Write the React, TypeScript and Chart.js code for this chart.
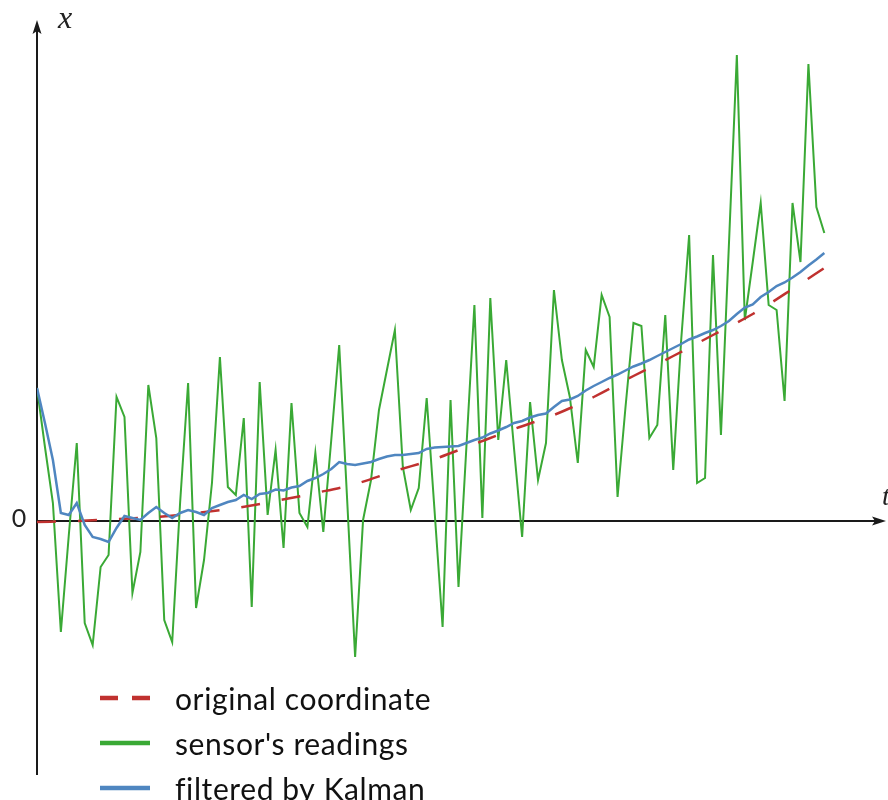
import React, { useEffect, useRef } from 'react';
import { Chart, registerables } from 'chart.js';

Chart.register(...registerables);

// sensor's readings (green), one value per time step t = 0..99
const sensorReadings: number[] = [
  13.3, 7.4, 1.8, -11.1, -1.4, 7.8, -10.2, -12.4, -4.6, -3.4,
  12.4, 10.4, -7.2, -3.1, 13.6, 8.3, -9.9, -12.1, 1.9, 13.8,
  -8.7, -3.9, 3.8, 16.4, 3.4, 2.6, 10.3, -8.6, 13.9, 0.6,
  7.1, -2.7, 11.8, 0.8, -0.6, 6.8, -1.1, 8.1, 17.6, 2.1,
  -13.6, 0.1, 4.1, 11.1, 15.1, 19.1, 5.4, 1.1, 3.3, 12.3,
  0.9, -10.6, 12.1, -6.6, 7.5, 21.6, 0.3, 22.3, 8.1, 16.1,
  7.1, -1.6, 11.9, 4.1, 7.8, 23.1, 16.1, 12.4, 5.8, 17.1,
  15.4, 22.6, 20.4, 2.4, 11.4, 19.8, 19.5, 8.3, 9.6, 20.6,
  5.1, 18.1, 28.6, 3.8, 4.3, 26.6, 8.6, 27.6, 46.6, 20.1,
  25.9, 31.8, 21.6, 21.1, 12.0, 31.8, 25.9, 45.7, 31.4, 28.8,
];

// filtered by Kalman (blue)
const kalmanFiltered: number[] = [
  13.3, 9.8, 6.1, 0.8, 0.6, 1.8, -0.4, -1.6, -1.8, -2.1,
  -0.7, 0.5, 0.3, 0.1, 0.8, 1.4, 0.8, 0.3, 0.8, 1.1,
  0.9, 0.6, 1.3, 1.6, 1.9, 2.1, 2.6, 2.2, 2.7, 2.8,
  3.15, 3.05, 3.35, 3.5, 4.0, 4.3, 4.7, 5.2, 5.9, 5.7,
  5.6, 5.75, 5.9, 6.2, 6.45, 6.6, 6.6, 6.7, 6.8, 7.2,
  7.35, 7.4, 7.45, 7.5, 7.8, 8.1, 8.35, 8.75, 9.05, 9.4,
  9.8, 10.0, 10.35, 10.6, 10.75, 11.4, 12.0, 12.15, 12.5, 13.05,
  13.5, 13.9, 14.3, 14.65, 15.05, 15.45, 15.75, 16.1, 16.5, 16.9,
  17.3, 17.7, 18.15, 18.45, 18.8, 19.1, 19.5, 20.0, 20.7, 21.35,
  21.65, 22.4, 22.9, 23.5, 23.85, 24.35, 24.9, 25.55, 26.15, 26.8,
];

// original coordinate (red dashed), read at these time steps
const originalT: number[] = [0, 5, 10, 15, 20, 25, 30, 35, 40, 45, 50, 55, 60, 65, 70, 75, 80, 85, 90, 95, 99];
const originalValues: number[] = [
  -0.1, 0.0, 0.2, 0.4, 0.8, 1.3, 2.0, 2.8, 3.7, 5.0,
  6.2, 7.7, 9.2, 10.6, 12.4, 14.5, 16.5, 18.6, 20.7, 23.2, 25.3,
];

const legendLabels: string[] = ['original coordinate', "sensor's readings", 'filtered by Kalman'];
const axisLabelX = 't';
const axisLabelY = 'x';
const originLabel = '0';

const RED = '#c0312f';
const GREEN = '#3aa935';
const BLUE = '#4f86c0';

const axesPlugin = {
  id: 'axesArrows',
  beforeDatasetsDraw(chart: any) {
    const { ctx, scales } = chart;
    const xs = scales.x;
    const ys = scales.y;
    const x0 = xs.getPixelForValue(0);
    const y0 = ys.getPixelForValue(0);
    ctx.save();
    ctx.strokeStyle = '#1a1a1a';
    ctx.fillStyle = '#1a1a1a';
    ctx.lineWidth = 2;
    // horizontal axis
    const xTip = xs.right + 6;
    ctx.beginPath();
    ctx.moveTo(x0, y0);
    ctx.lineTo(xTip - 8, y0);
    ctx.stroke();
    ctx.beginPath();
    ctx.moveTo(xTip, y0);
    ctx.lineTo(xTip - 14, y0 - 4.5);
    ctx.lineTo(xTip - 11, y0);
    ctx.lineTo(xTip - 14, y0 + 4.5);
    ctx.closePath();
    ctx.fill();
    // vertical axis
    const yTip = ys.top;
    ctx.beginPath();
    ctx.moveTo(x0, ys.bottom - 5);
    ctx.lineTo(x0, yTip + 8);
    ctx.stroke();
    ctx.beginPath();
    ctx.moveTo(x0, yTip);
    ctx.lineTo(x0 - 4.5, yTip + 14);
    ctx.lineTo(x0, yTip + 11);
    ctx.lineTo(x0 + 4.5, yTip + 14);
    ctx.closePath();
    ctx.fill();
    // labels
    ctx.fillStyle = '#222';
    ctx.font = 'italic 32px "Liberation Serif"';
    ctx.textAlign = 'left';
    ctx.textBaseline = 'alphabetic';
    ctx.fillText(axisLabelY, x0 + 21, yTip + 8);
    ctx.font = 'italic 28px "Liberation Serif"';
    ctx.fillText(axisLabelX, xTip - 4, y0 - 16);
    ctx.font = '25px Lato';
    ctx.textAlign = 'center';
    ctx.fillText(originLabel, x0 - 18, y0 + 6);
    ctx.restore();
  },
  afterDraw(chart: any) {
    const { ctx } = chart;
    const colors = [RED, GREEN, BLUE];
    const rowY = [698, 743, 788];
    ctx.save();
    for (let i = 0; i < legendLabels.length; i++) {
      ctx.strokeStyle = colors[i];
      ctx.lineWidth = 4.5;
      ctx.lineCap = 'butt';
      ctx.setLineDash(i === 0 ? [18, 14] : []);
      ctx.beginPath();
      ctx.moveTo(100, rowY[i]);
      ctx.lineTo(150, rowY[i]);
      ctx.stroke();
      ctx.setLineDash([]);
      ctx.fillStyle = '#111';
      ctx.font = '30px Lato';
      try { (ctx as any).letterSpacing = '0.6px'; } catch (e) { /* ignore */ }
      ctx.textAlign = 'left';
      ctx.textBaseline = 'alphabetic';
      ctx.fillText(legendLabels[i], 175, rowY[i] + 12);
    }
    ctx.restore();
  },
};

export default function App() {
  const canvasRef = useRef<HTMLCanvasElement | null>(null);

  useEffect(() => {
    if (!canvasRef.current) return;
    const chart = new Chart(canvasRef.current, {
      type: 'line',
      data: {
        datasets: [
          {
            label: legendLabels[1],
            data: sensorReadings.map((v, i) => ({ x: i, y: v })),
            borderColor: GREEN,
            borderWidth: 2,
            pointRadius: 0,
            tension: 0,
            order: 3,
          },
          {
            label: legendLabels[0],
            data: originalT.map((t, i) => ({ x: t, y: originalValues[i] })),
            borderColor: RED,
            borderWidth: 2.5,
            borderDash: [19, 22],
            pointRadius: 0,
            cubicInterpolationMode: 'monotone',
            order: 2,
          },
          {
            label: legendLabels[2],
            data: kalmanFiltered.map((v, i) => ({ x: i, y: v })),
            borderColor: BLUE,
            borderWidth: 2.5,
            pointRadius: 0,
            tension: 0,
            order: 1,
          },
        ],
      },
      options: {
        responsive: false,
        animation: false,
        layout: { padding: { left: 37, right: 8, top: 20, bottom: 20 } },
        scales: {
          x: { type: 'linear', min: 0, max: 106, display: false },
          y: { type: 'linear', min: -25.9, max: 50.1, display: false },
        },
        plugins: {
          legend: { display: false },
          tooltip: { enabled: false },
        },
      },
      plugins: [axesPlugin],
    } as any);
    return () => chart.destroy();
  }, []);

  return (
    <div style={{ position: 'fixed', left: 0, top: 0, width: 888, height: 800, background: '#fff' }}>
      <canvas ref={canvasRef} width={888} height={800} style={{ display: 'block' }} />
    </div>
  );
}
